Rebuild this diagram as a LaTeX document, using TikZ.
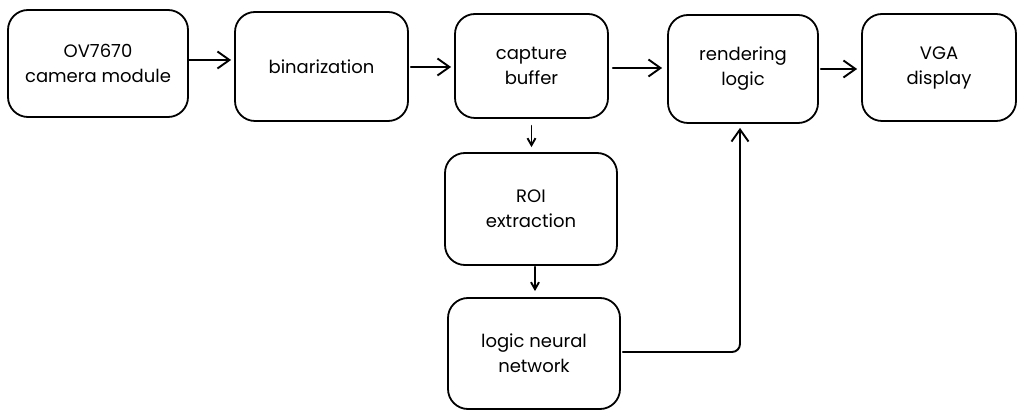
\documentclass[tikz,border=0pt]{standalone}
\usepackage{fontspec}
\setmainfont{Poppins}
\usetikzlibrary{arrows.meta}
\begin{document}
\begin{tikzpicture}[x=1pt, y=-1pt, font=\fontsize{18}{25}\selectfont, line join=round, line cap=round, >={Straight Barb[length=12pt,width=17pt]},
	blk/.style={draw, line width=1.8pt, rounded corners=20pt, align=center, inner sep=0pt},
	flow/.style={->, line width=1.9pt},
	small/.style={flow, >={Straight Barb[length=7pt,width=8pt]}}]
	\useasboundingbox (0,0) rectangle (1024,419);
	\node[blk, minimum width=180pt, minimum height=107pt] (cam) at (98,63.5) {OV7670\\camera module};
	\node[blk, minimum width=173pt, minimum height=109pt] (bin) at (321.5,66.5) {binarization};
	\node[blk, minimum width=153pt, minimum height=104pt] (buf) at (531.5,66) {capture\\buffer};
	\node[blk, minimum width=150pt, minimum height=108pt] (ren) at (743,69) {rendering\\logic};
	\node[blk, minimum width=154pt, minimum height=107pt] (vga) at (939,67.5) {VGA\\display};
	\node[blk, minimum width=172pt, minimum height=112pt] (roi) at (531,209) {ROI\\extraction};
	\node[blk, minimum width=172pt, minimum height=111pt] (lnn) at (534,353.5) {logic neural\\network};
	\draw[flow, shorten >=3pt] ([yshift=3.5pt]cam.east) -- ([yshift=3.5pt]cam.east -| bin.west);
	\draw[flow, shorten <=2pt, shorten >=3pt] ([yshift=-0.5pt]bin.east) -- ([yshift=-0.5pt]bin.east -| buf.west);
	\draw[flow, shorten <=4pt, shorten >=5pt] ([yshift=-2pt]buf.east) -- ([yshift=-2pt]buf.east -| ren.west);
	\draw[flow, shorten <=2pt, shorten >=4pt] (ren.east) -- (ren.east -| vga.west);
	\draw[small, shorten <=7pt, shorten >=5pt] (buf.south) -- (buf.south |- roi.north);
	\draw[small, shorten <=1pt, shorten >=6pt] ([xshift=4pt]roi.south) -- ([xshift=4pt]roi.south |- lnn.north);
	\draw[flow, rounded corners=8pt, shorten <=2pt, shorten >=4pt] ([yshift=1.5pt]lnn.east) -| ([xshift=-3pt]ren.south);
\end{tikzpicture}
\end{document}
